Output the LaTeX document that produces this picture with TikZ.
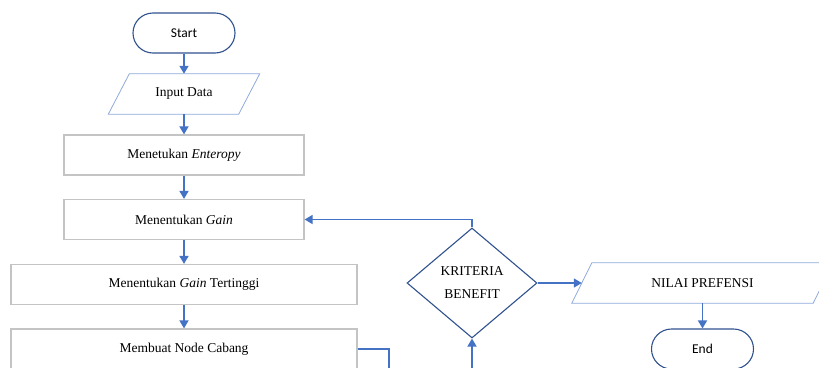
\documentclass[tikz,border=0pt]{standalone}
\usepackage{fontspec}
\setmainfont{Liberation Serif}
\newfontfamily\calib{Carlito}
\usetikzlibrary{shapes.geometric,arrows.meta}
\definecolor{arrowblue}{HTML}{4472C4}
\definecolor{darkblue}{HTML}{2F528F}
\definecolor{lightblue}{HTML}{8FAADC}
\definecolor{boxgray}{HTML}{C4C4C4}
\tikzset{
  txt/.style={font=\fontsize{13.5}{16}\selectfont},
  term/.style={draw=darkblue, line width=1.1pt, rounded corners=20pt, minimum width=102pt, minimum height=40pt, inner sep=0pt, font=\calib\fontsize{13.5}{16}\selectfont},
  iobox/.style={rectangle, minimum height=40pt, inner sep=0pt, txt},
  ioline/.style={draw=lightblue, line width=0.8pt},
  procbox/.style={rectangle, draw=boxgray, line width=1.2pt, minimum height=40pt, inner sep=0pt, txt},
  decision/.style={diamond, draw=darkblue, line width=1.1pt, minimum width=130pt, minimum height=110pt, inner sep=0pt, align=center, font=\fontsize{13.5}{23}\selectfont},
  conn/.style={draw=arrowblue, line width=1.5pt, -{Triangle[length=8pt,width=9pt]}}
}
\begin{document}
\begin{tikzpicture}[x=1pt,y=-1pt]
\useasboundingbox (0,0) rectangle (819,367);
\clip (0,0) rectangle (819,367);
\node[term] (start) at (184,33) {Start};
\node[iobox, minimum width=130pt] (input) at (184,94) {Input Data};
\draw[ioline] ([xshift=-10.5pt]input.south west) -- ([xshift=10.5pt]input.north west) -- ([xshift=10.5pt]input.north east) -- ([xshift=-10.5pt]input.south east) -- cycle;
\node[procbox, minimum width=240pt] (ent) at (184,155) {Menetukan \textit{Enteropy}};
\node[procbox, minimum width=240pt] (gain) at (184,219.5) {Menentukan \textit{Gain}};
\node[procbox, minimum width=346pt] (tinggi) at (184,284.5) {Menentukan \textit{Gain} Tertinggi};
\node[procbox, minimum width=346pt] (cabang) at (184,349) {Membuat Node Cabang};
\node[decision] (krit) at (472,283) {KRITERIA\\BENEFIT};
\node[iobox, minimum width=241pt] (nilai) at (702.5,283) {NILAI PREFENSI};
\draw[ioline] ([xshift=-10pt]nilai.south west) -- ([xshift=10pt]nilai.north west) -- ([xshift=10pt]nilai.north east) -- ([xshift=-10pt]nilai.south east) -- cycle;
\node[term] (end) at (702.5,349) {End};
\coordinate (c1) at (389,349);
\coordinate (c2) at (389,395);
\coordinate (c3) at (472,395);
\draw[conn] (start) -- (input);
\draw[conn] (input) -- (ent);
\draw[conn] (ent) -- (gain);
\draw[conn] (gain) -- (tinggi);
\draw[conn] (tinggi) -- (cabang);
\draw[conn] (cabang.east) -- (c1) -- (c2) -- (c3) -- (krit.south);
\draw[conn] (krit.north) |- (gain.east);
\draw[conn] (krit.east) -- (nilai.west);
\draw[conn] (nilai.south) -- (end.north);
\end{tikzpicture}
\end{document}
